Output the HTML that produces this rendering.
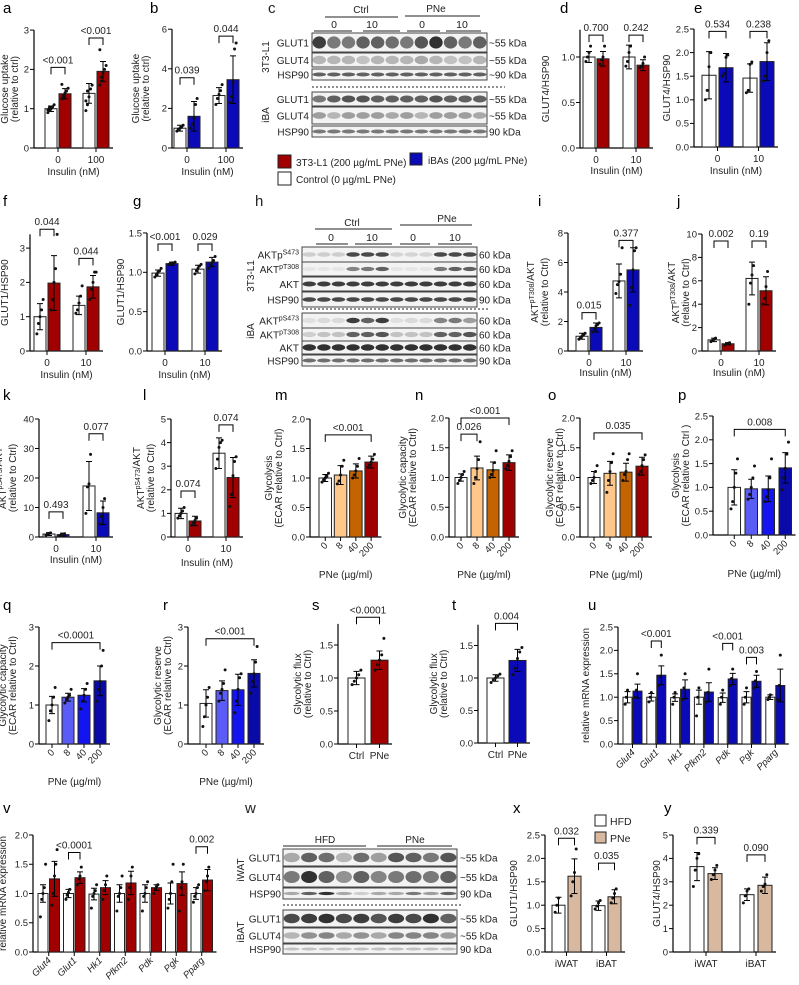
<!DOCTYPE html>
<html><head><meta charset="utf-8">
<style>
html,body{margin:0;padding:0;background:#fff;}
svg{display:block;font-family:"Liberation Sans",Arial,sans-serif;}
</style></head>
<body>
<svg id="fig" width="799" height="985" viewBox="0 0 799 985" xmlns="http://www.w3.org/2000/svg"></svg>
<script>
// ---------------- DATA ----------------
const insCats=["0","100"];
const ins10=["0","10"];
const pneCats=["0","8","40","200"];
const ctrlPne=["Ctrl","PNe"];
const genes=["Glut4","Glut1","Hk1","Pfkm2","Pdk","Pgk","Pparg"];
const tissue=["iWAT","iBAT"];

const aMeans=[1.0,1.38,1.39,1.95];
const aErr=[0.07,0.13,0.25,0.25];
const aPts=[[0.9,0.95,1,1.05,1.1,0.97,1.02],[1.25,1.3,1.4,1.45,1.52,1.62,1.33],[0.95,1.1,1.3,1.5,1.6,1.2,1.45],[1.6,1.8,1.9,2.0,2.1,2.5,1.7]];
const aBr=[[0,1,2.05,"<0.001"],[2,3,2.8,"<0.001"]];

const bMeans=[1.0,1.6,2.65,3.45];
const bErr=[0.15,0.75,0.4,1.2];
const bPts=[[0.85,0.95,1.0,1.05,1.15],[1.0,1.2,1.5,2.2,2.5],[2.2,2.5,2.7,2.9,3.2],[2.3,2.6,3.3,5.0,5.3]];
const bBr=[[0,1,3.55,"0.039"],[2,3,5.65,"0.044"]];

const dMeans=[1.0,0.98,1.0,0.91];
const dErr=[0.06,0.08,0.13,0.06];
const dPts=[[0.95,1.0,1.05,1.12],[0.92,0.97,1.0,1.12],[0.9,0.95,1.05,1.12],[0.88,0.9,0.93,1.0]];
const dBr=[[0,1,1.24,"0.700"],[2,3,1.24,"0.242"]];

const eMeans=[1.52,1.68,1.46,1.81];
const eErr=[0.5,0.3,0.3,0.4];
const ePts=[[1.0,1.2,1.7,2.0],[1.5,1.55,1.9,1.95],[1.15,1.2,1.75,1.8],[1.4,1.5,2.0,2.25]];
const eBr=[[0,1,2.45,"0.534"],[2,3,2.45,"0.238"]];

const fMeans=[1.0,1.98,1.33,1.87];
const fErr=[0.38,0.8,0.27,0.33];
const fPts=[[0.5,0.8,1.0,1.2,1.5],[1.2,1.5,2.0,2.4,3.4],[1.1,1.2,1.4,1.6,1.9],[1.5,1.8,2.0,2.3,2.3]];
const fBr=[[0,1,3.55,"0.044"],[2,3,2.7,"0.044"]];

const gMeans=[0.99,1.11,1.04,1.13];
const gErr=[0.04,0.02,0.05,0.06];
const gPts=[[0.94,0.97,1.0,1.02,1.05],[1.1,1.11,1.12,1.12,1.13],[0.98,1.02,1.05,1.08,1.1],[1.05,1.1,1.12,1.15,1.2]];
const gBr=[[0,1,1.36,"<0.001"],[2,3,1.36,"0.029"]];

const iMeans=[1.0,1.6,4.75,5.5];
const iErr=[0.2,0.3,1.15,1.5];
const iPts=[[0.8,0.9,1.0,1.1,1.2],[1.3,1.5,1.7,1.8,1.9],[3.9,4.5,4.7,5.2,7.0],[3.1,4.3,5.5,6.8,7.0]];
const iBr=[[0,1,2.6,"0.015"],[2,3,7.5,"0.377"]];

const jMeans=[0.95,0.62,6.2,5.15];
const jErr=[0.15,0.1,1.4,1.2];
const jPts=[[0.8,0.9,1.0,1.1],[0.5,0.6,0.65,0.7],[4.0,5.8,6.5,7.3],[4.0,4.5,5.5,6.8]];
const jBr=[[0,1,9.4,"0.002"],[2,3,9.4,"0.19"]];

const kMeans=[1.0,0.8,17.3,8.2];
const kErr=[0.5,0.5,8.3,4.0];
const kPts=[[0.6,0.9,1.2,1.4],[0.5,0.7,0.9,1.1],[8.0,17,18,28],[4.5,7,10,13]];
const kBr=[[0,1,8.5,"0.493"],[2,3,35,"0.077"]];

const lMeans=[1.0,0.68,3.55,2.52];
const lErr=[0.22,0.2,0.65,0.85];
const lPts=[[0.8,0.9,1.0,1.1,1.25],[0.5,0.6,0.7,0.8],[2.9,3.3,3.8,4.0,4.1],[1.3,1.8,2.6,3.2,3.4]];
const lBr=[[0,1,1.95,"0.074"],[2,3,4.75,"0.074"]];

const mMeans=[1.0,1.05,1.12,1.27];
const mErr=[0.06,0.16,0.12,0.1];
const mPts=[[0.93,0.97,1.0,1.03,1.08],[0.9,0.95,1.05,1.2,1.3],[1.0,1.05,1.12,1.2,1.33],[1.18,1.22,1.27,1.32,1.4]];
const mBr=[[0,3,1.73,"<0.001"]];

const nMeans=[1.0,1.16,1.13,1.25];
const nErr=[0.06,0.2,0.13,0.13];
const nPts=[[0.9,0.95,1.0,1.05,1.1],[0.9,1.0,1.15,1.3,1.6],[1.0,1.05,1.12,1.25,1.45],[1.15,1.2,1.27,1.35,1.45]];
const nBr=[[0,1,1.73,"0.026"],[0,3,2.0,"<0.001"]];

const oMeans=[1.0,1.07,1.09,1.19];
const oErr=[0.1,0.2,0.15,0.15];
const oPts=[[0.9,0.95,1.0,1.1,1.2],[0.75,0.95,1.1,1.25,1.4],[0.95,1.05,1.1,1.3,1.4],[1.05,1.1,1.2,1.3,1.38]];
const oBr=[[0,3,1.75,"0.035"]];

const pMeans=[1.0,0.97,0.97,1.41];
const pErr=[0.37,0.2,0.27,0.32];
const pPts=[[0.55,0.7,1.0,1.3,1.6],[0.75,0.85,1.0,1.2,1.45],[0.7,0.8,0.95,1.2,1.6],[0.95,1.2,1.4,1.7,1.95]];
const pBr=[[0,3,2.22,"0.008"]];

const qMeans=[1.0,1.2,1.25,1.62];
const qErr=[0.22,0.1,0.17,0.38];
const qPts=[[0.6,0.85,1.0,1.2,1.45],[1.05,1.15,1.2,1.25,1.4],[0.9,1.1,1.25,1.4,1.55],[1.1,1.4,1.6,2.0,2.4]];
const qBr=[[0,3,2.6,"<0.0001"]];

const rMeans=[1.04,1.37,1.39,1.81];
const rErr=[0.35,0.25,0.4,0.35];
const rPts=[[0.45,0.7,1.0,1.2,1.45],[1.1,1.3,1.4,1.55,1.9],[0.8,1.1,1.4,1.7,1.8],[1.3,1.6,1.8,2.1,2.5]];
const rBr=[[0,3,2.7,"<0.001"]];

const sMeans=[1.0,1.27];
const sErr=[0.1,0.14];
const sPts=[[0.9,0.95,1.0,1.05,1.12],[1.12,1.2,1.27,1.35,1.6]];
const sBr=[[0,1,1.92,"<0.0001"]];

const tMeans=[1.0,1.27];
const tErr=[0.05,0.17];
const tPts=[[0.93,0.97,1.0,1.03,1.06],[1.05,1.15,1.3,1.4,1.47]];
const tBr=[[0,1,1.84,"0.004"]];

const uMeans=[1.0,1.13,1.0,1.47,0.99,1.17,1.0,1.11,0.99,1.39,1.0,1.34,1.0,1.25];
const uErr=[0.12,0.15,0.08,0.2,0.08,0.2,0.15,0.2,0.1,0.12,0.12,0.13,0.05,0.35];
const uPts=[[0.85,1.0,1.15],[1.0,1.15,1.5],[0.9,1.0,1.1],[1.25,1.45,1.9],[0.85,1.0,1.1],[0.95,1.2,1.5],[0.6,1.0,1.2],[0.9,1.1,1.6],[0.85,1.0,1.15],[1.25,1.4,1.6],[0.85,1.0,1.2],[1.2,1.35,1.55],[0.95,1.0,1.05],[0.95,1.25,1.9]];
const uBr=[[2,3,2.2,"<0.001"],[8,9,2.15,"<0.001"],[10,11,1.85,"0.003"]];

const vMeans=[1.0,1.25,1.0,1.27,0.99,1.1,1.0,1.18,1.0,1.1,1.0,1.17,1.0,1.23];
const vErr=[0.15,0.3,0.07,0.1,0.1,0.12,0.15,0.2,0.15,0.05,0.18,0.2,0.1,0.18];
const vPts=[[0.6,0.9,1.0,1.1,1.5],[0.8,1.0,1.3,1.5,1.75],[0.9,0.97,1.02,1.07],[1.15,1.25,1.3,1.45],[0.75,0.95,1.0,1.05,1.15],[0.9,1.05,1.15,1.3],[0.7,0.95,1.0,1.1,1.3],[0.9,1.1,1.3,1.45],[0.7,0.95,1.0,1.1,1.2],[1.0,1.08,1.12,1.15],[0.75,0.9,1.0,1.2,1.5],[0.7,1.1,1.2,1.5],[0.85,0.95,1.0,1.1,1.15],[1.05,1.2,1.3,1.45]];
const vBr=[[2,3,1.7,"<0.0001"],[12,13,1.8,"0.002"]];

const xMeans=[1.0,1.62,0.99,1.18];
const xErr=[0.17,0.37,0.1,0.15];
const xPts=[[0.85,1.0,1.15],[1.2,1.5,1.7,2.2],[0.92,0.98,1.05,1.1],[1.05,1.15,1.25,1.35]];
const xBr=[[0,1,2.43,"0.032"],[2,3,1.9,"0.035"]];

const yMeans=[3.65,3.35,2.45,2.85];
const yErr=[0.6,0.25,0.25,0.35];
const yPts=[[2.8,3.5,4.0,4.2],[3.1,3.3,3.5,3.7],[2.1,2.4,2.6,2.7],[2.6,2.8,2.9,3.3]];
const yBr=[[0,1,4.9,"0.339"],[2,3,4.15,"0.090"]];

// ---------------- DRAWING ----------------
const NS='http://www.w3.org/2000/svg';
const svg=document.getElementById('fig');
function el(tag,attrs,parent,text){const e=document.createElementNS(NS,tag);for(const k in attrs)e.setAttribute(k,attrs[k]);if(text!==undefined)e.textContent=text;(parent||svg).appendChild(e);return e;}

const W='#ffffff',R='#a00000',B='#0a0ab8',LO='#ffc88a',O='#c46400',LB='#5b5bf5',MB='#1414f0',DB='#0a0aa8',TAN='#d8b89e';

function drawPanel(P){
  const g=el('g',{});
  
  
  const Y=v=>P.y0-v*P.ppu;
  const bx=i=>{const gi=Math.floor(i/P.nPer),bi=i%P.nPer;return P.x0+gi*P.gstep+bi*(P.bw+P.ig);};
  const cx=i=>bx(i)+P.bw/2;
  const n=P.means.length;
  const xEnd=bx(n-1)+P.bw+(P.xpad||4);
  const L=el('text',{x:P.lx,y:P.ly,'font-size':15,fill:'#000'},g,P.letter);
  
  
  const ya=el('line',{x1:P.ax,y1:P.y0+0.5,x2:P.ax,y2:Y(P.top),stroke:'#000','stroke-width':1.2},g);
  
  
  const xa=el('line',{x1:P.ax,y1:P.y0,x2:xEnd,y2:P.y0,stroke:'#000','stroke-width':1.2},g);
  
  
  P.ticks.forEach(t=>{
    el('line',{x1:P.ax-4,y1:Y(t),x2:P.ax,y2:Y(t),stroke:'#000','stroke-width':1},g);
    const tl=el('text',{x:P.ax-5,y:Y(t)+3.3,'font-size':9.5,'text-anchor':'end',fill:'#222'},g,t.toFixed(P.dec));
    
    
  });
  for(let i=0;i<n;i++){
    const col=P.colors.length===n?P.colors[i]:P.colors[i%P.nPer];
    const top=Y(P.means[i]);
    const r=el('rect',{x:bx(i),y:top,width:P.bw,height:P.y0-top,fill:col,stroke:'#222','stroke-width':1},g);
    
    
    const c=cx(i),e=P.err[i];
    const eb=el('path',{d:`M${c},${Y(P.means[i]-e)}V${Y(P.means[i]+e)}M${c-3},${Y(P.means[i]+e)}h6M${c-3},${Y(P.means[i]-e)}h6`,stroke:'#000','stroke-width':1,fill:'none'},g);
    
    
    (P.pts[i]||[]).forEach((v,k)=>{
      const off=((k%5)-2)*P.bw*0.13;
      const d=el('circle',{cx:c+off,cy:Y(v),r:1.5,fill:'#111'},g);
      
      
    });
  }
  const ng=Math.ceil(n/P.nPer);
  for(let gi=0;gi<ng;gi++){
    const a=gi*P.nPer,b=Math.min(n-1,gi*P.nPer+P.nPer-1);
    const c=(bx(a)+bx(b)+P.bw)/2;
    el('line',{x1:c,y1:P.y0,x2:c,y2:P.y0+4,stroke:'#000','stroke-width':1},g);
    let t;
    if(P.rot){
      t=el('text',{x:c+3,y:P.y0+9,'font-size':9.5,'text-anchor':'end',fill:'#222','font-style':P.italic?'italic':'normal',transform:`rotate(-45 ${c+3} ${P.y0+9})`},g,P.cats[gi]);
    } else {
      t=el('text',{x:c,y:P.y0+15,'font-size':10,'text-anchor':'middle',fill:'#222'},g,P.cats[gi]);
    }
    
    
  }
  P.br.forEach(br=>{
    const x1=cx(br[0]),x2=cx(br[1]),y=Y(br[2]);
    const p=el('path',{d:`M${x1},${y+7}V${y}H${x2}V${y+7}`,stroke:'#000','stroke-width':1,fill:'none'},g);
    
    
    const t=el('text',{x:(x1+x2)/2,y:y-4,'font-size':10,'text-anchor':'middle',fill:'#222'},g,br[3]);
    
    
  });
  const ymid=(P.y0+Y(P.top))/2+(P.ylOff||0);
  P.ylab.forEach((s,k)=>{
    const xx=P.ylx+k*10;
    const t=el('text',{x:xx,y:ymid,'font-size':10,'text-anchor':'middle',fill:'#222',transform:`rotate(-90 ${xx} ${ymid})`},g);
    t.innerHTML=s;
    
    
  });
  if(P.xlab){
    const xm=(P.ax+xEnd)/2;
    const t=el('text',{x:xm,y:P.xly,'font-size':10,'text-anchor':'middle',fill:'#222'},g,P.xlab);
    
    
  }
}

const SUP=(b,s)=>`${b}<tspan dy="-4" font-size="7">${s}</tspan><tspan dy="4"></tspan>`;

const panels=[
 {name:'panel-a',letter:'a',lx:3,ly:13,ax:34,y0:148,ppu:39.3,top:3,ticks:[0,1,2,3],dec:0,x0:45,gstep:38,bw:12,ig:2,nPer:2,colors:[W,R],means:aMeans,err:aErr,pts:aPts,br:aBr,cats:insCats,ylab:['Glucose uptake','(relative to ctrl)'],ylx:8,xlab:'Insulin (nM)',xly:175},
 {name:'panel-b',letter:'b',lx:150,ly:13,ax:172,y0:148,ppu:19.8,top:6,ticks:[0,2,4,6],dec:0,x0:174,gstep:39,bw:12,ig:2,nPer:2,colors:[W,B],means:bMeans,err:bErr,pts:bPts,br:bBr,cats:insCats,ylab:['Glucose uptake','(relative to ctrl)'],ylx:139,xlab:'Insulin  (nM)',xly:175},
 {name:'panel-d',letter:'d',lx:560,ly:13,ax:580,y0:148,ppu:91,top:1.3,ticks:[0,0.5,1.0],dec:1,x0:583,gstep:40,bw:12,ig:2,nPer:2,colors:[W,R],means:dMeans,err:dErr,pts:dPts,br:dBr,cats:ins10,ylab:['GLUT4/HSP90'],ylx:549,xlab:'Insulin (nM)',xly:174},
 {name:'panel-e',letter:'e',lx:694,ly:13,ax:694,y0:147,ppu:47.2,top:2.5,ticks:[0,0.5,1,1.5,2,2.5],dec:1,x0:702,gstep:41,bw:14,ig:3,nPer:2,colors:[W,B],means:eMeans,err:eErr,pts:ePts,br:eBr,cats:ins10,ylab:['GLUT4/HSP90'],ylx:670,xlab:'Insulin (nM)',xly:174},
 {name:'panel-f',letter:'f',lx:3,ly:206,ax:30,y0:351,ppu:34.3,top:3.4,ticks:[0,1,2,3],dec:0,x0:34,gstep:39,bw:12,ig:2,nPer:2,colors:[W,R],means:fMeans,err:fErr,pts:fPts,br:fBr,cats:ins10,ylab:['GLUT1/HSP90'],ylx:8,xlab:'Insulin (nM)',xly:378},
 {name:'panel-g',letter:'g',lx:133,ly:206,ax:147,y0:351,ppu:78.7,top:1.5,ticks:[0,0.5,1.0,1.5],dec:1,x0:152,gstep:40,bw:12,ig:2,nPer:2,colors:[W,B],means:gMeans,err:gErr,pts:gPts,br:gBr,cats:ins10,ylab:['GLUT1/HSP90'],ylx:124,xlab:'Insulin (nM)',xly:378},
 {name:'panel-i',letter:'i',lx:538,ly:206,ax:568,y0:351,ppu:14.75,top:8,ticks:[0,2,4,6,8],dec:0,x0:576,gstep:37,bw:12,ig:2,nPer:2,colors:[W,B],means:iMeans,err:iErr,pts:iPts,br:iBr,cats:ins10,ylab:[SUP('AKT','pT308')+'/AKT','(relative to Ctrl)'],ylx:538,xlab:'Insulin (nM)',xly:376},
 {name:'panel-j',letter:'j',lx:677,ly:206,ax:702,y0:351,ppu:11.7,top:10,ticks:[0,2,4,6,8,10],dec:0,x0:708,gstep:38,bw:12,ig:2,nPer:2,colors:[W,R],means:jMeans,err:jErr,pts:jPts,br:jBr,cats:ins10,ylab:[SUP('AKT','pT308')+'/AKT','(relative to Ctrl)'],ylx:679,xlab:'Insulin (nM)',xly:376},
 {name:'panel-k',letter:'k',lx:3,ly:400,ax:39,y0:537,ppu:2.95,top:40,ticks:[0,10,20,30,40],dec:0,x0:43,gstep:40,bw:12,ig:2,nPer:2,colors:[W,B],means:kMeans,err:kErr,pts:kPts,br:kBr,cats:ins10,ylab:[SUP('AKT','pS473')+'/AKT','(relative to Ctrl)'],ylx:6,xlab:'Insulin (nM)',xly:563},
 {name:'panel-l',letter:'l',lx:143,ly:400,ax:171,y0:537,ppu:23.6,top:5,ticks:[0,1,2,3,4,5],dec:0,x0:175,gstep:38,bw:12,ig:2,nPer:2,colors:[W,R],means:lMeans,err:lErr,pts:lPts,br:lBr,cats:ins10,ylab:[SUP('AKT','pS473')+'/AKT','(relative to Ctrl)'],ylx:144,xlab:'Insulin (nM)',xly:566},
 {name:'panel-m',letter:'m',lx:275,ly:400,ax:310,y0:537,ppu:59,top:2,ticks:[0,0.5,1,1.5,2],dec:1,x0:319,gstep:15.3,bw:12.5,ig:0,nPer:1,colors:[W,LO,O,R],means:mMeans,err:mErr,pts:mPts,br:mBr,cats:pneCats,rot:true,ylab:['Glycolysis','(ECAR relative to Ctrl)'],ylx:272,xlab:'PNe (µg/ml)',xly:578},
 {name:'panel-n',letter:'n',lx:415,ly:400,ax:449,y0:537,ppu:59.5,top:2,ticks:[0,0.5,1,1.5,2],dec:1,x0:455,gstep:16,bw:12,ig:0,nPer:1,colors:[W,LO,O,R],means:nMeans,err:nErr,pts:nPts,br:nBr,cats:pneCats,rot:true,ylab:['Glycolytic capacity','(ECAR relative to Ctrl)'],ylx:406,xlab:'PNe (µg/ml)',xly:578},
 {name:'panel-o',letter:'o',lx:548,ly:400,ax:580,y0:537,ppu:59.5,top:2,ticks:[0,0.5,1,1.5,2],dec:1,x0:588,gstep:16,bw:12,ig:0,nPer:1,colors:[W,LO,O,R],means:oMeans,err:oErr,pts:oPts,br:oBr,cats:pneCats,rot:true,ylab:['Glycolytic reserve','(ECAR relative to Ctrl)'],ylx:553,xlab:'PNe (µg/ml)',xly:578},
 {name:'panel-p',letter:'p',lx:678,ly:400,ax:713,y0:535,ppu:47.6,top:2.5,ticks:[0,0.5,1,1.5,2,2.5],dec:1,x0:728,gstep:17,bw:12.5,ig:0,nPer:1,colors:[W,LB,MB,DB],means:pMeans,err:pErr,pts:pPts,br:pBr,cats:pneCats,rot:true,ylab:['Glycolysis','(ECAR relative to Ctrl )'],ylx:679,xlab:'PNe (µg/ml)',xly:577},
 {name:'panel-q',letter:'q',lx:3,ly:610,ax:39,y0:744,ppu:39,top:3,ticks:[0,1,2,3],dec:0,x0:46,gstep:16,bw:12,ig:0,nPer:1,colors:[W,LB,MB,DB],means:qMeans,err:qErr,pts:qPts,br:qBr,cats:pneCats,rot:true,ylab:['Glycolytic capacity','(ECAR relative to Ctrl)'],ylx:6,xlab:'PNe (µg/ml)',xly:785},
 {name:'panel-r',letter:'r',lx:163,ly:610,ax:188,y0:744,ppu:39,top:3,ticks:[0,1,2,3],dec:0,x0:200,gstep:16,bw:12,ig:0,nPer:1,colors:[W,LB,MB,DB],means:rMeans,err:rErr,pts:rPts,br:rBr,cats:pneCats,rot:true,ylab:['Glycolytic reserve','(ECAR relative to Ctrl)'],ylx:161,xlab:'PNe (µg/ml)',xly:785},
 {name:'panel-s',letter:'s',lx:312,ly:610,ax:338,y0:744,ppu:66,top:1.82,ticks:[0,0.5,1,1.5],dec:1,x0:348,gstep:23,bw:17,ig:0,nPer:1,colors:[W,R],means:sMeans,err:sErr,pts:sPts,br:sBr,cats:ctrlPne,ylab:['Glycolytic flux','(relative to Ctrl)'],ylx:301,xlab:null},
 {name:'panel-t',letter:'t',lx:452,ly:610,ax:478,y0:743,ppu:65,top:1.82,ticks:[0,0.5,1,1.5],dec:1,x0:487,gstep:22,bw:17,ig:0,nPer:1,colors:[W,B],means:tMeans,err:tErr,pts:tPts,br:tBr,cats:ctrlPne,ylab:['Glycolytic flux','(relative to Ctrl)'],ylx:437,xlab:null},
 {name:'panel-u',letter:'u',lx:588,ly:610,ax:618,y0:744,ppu:46.8,top:2.5,ticks:[0,0.5,1,1.5,2,2.5],dec:1,x0:623,gstep:23.8,bw:9,ig:1,nPer:2,colors:[W,B],means:uMeans,err:uErr,pts:uPts,br:uBr,cats:genes,rot:true,italic:true,ylab:['relative mRNA expression'],ylx:589,xlab:null},
 {name:'panel-v',letter:'v',lx:3,ly:813,ax:33,y0:952,ppu:58.5,top:2,ticks:[0,0.5,1,1.5,2],dec:1,x0:38,gstep:25.5,bw:10,ig:1.5,nPer:2,colors:[W,R],means:vMeans,err:vErr,pts:vPts,br:vBr,cats:genes,rot:true,italic:true,ylab:['relative mRNA expression'],ylx:6,xlab:null},
 {name:'panel-x',letter:'x',lx:513,ly:813,ax:545,y0:952,ppu:46.8,top:2.5,ticks:[0,0.5,1,1.5,2,2.5],dec:1,x0:552,gstep:40,bw:13,ig:3,nPer:2,colors:[W,TAN],means:xMeans,err:xErr,pts:xPts,br:xBr,cats:tissue,ylab:['GLUT1/HSP90'],ylx:517,xlab:null},
 {name:'panel-y',letter:'y',lx:664,ly:813,ax:673,y0:952,ppu:23.4,top:5,ticks:[0,1,2,3,4,5],dec:0,x0:690,gstep:50,bw:14,ig:4,nPer:2,colors:[W,TAN],means:yMeans,err:yErr,pts:yPts,br:yBr,cats:tissue,ylab:['GLUT4/HSP90'],ylx:660,xlab:null},
];
panels.forEach(drawPanel);

// ---------------- BLOTS ----------------
function blot(name,x,w,lanes,rows,labelX,kdaX){
  const g=el('g',{});
  
  
  const lw=w/lanes;
  rows.forEach(r=>{
    const bx=el('rect',{x:x,y:r.y,width:w,height:r.h,fill:'#f3f3f3',stroke:'#444','stroke-width':1},g);
    
    
    for(let i=0;i<lanes;i++){
      const d=r.d[i%r.d.length];
      el('ellipse',{cx:x+lw*(i+0.5),cy:r.y+r.h/2,rx:lw*0.46,ry:Math.max(1.5,r.h*r.bh),fill:'#000','fill-opacity':d},g);
    }
    const t=el('text',{x:labelX,y:r.y+r.h/2+4,'font-size':10,'text-anchor':'end',fill:'#222'},g);
    t.innerHTML=r.label;
    
    
    const k=el('text',{x:kdaX,y:r.y+r.h/2+4,'font-size':10,fill:'#222'},g,r.kda);
    
    
  });
}
function txt(x,y,s,size,anchor,name,rot){
  const a={x:x,y:y,'font-size':size,'text-anchor':anchor||'start',fill:'#222'};
  if(rot)a.transform=`rotate(-90 ${x} ${y})`;
  const t=el('text',a);
  t.innerHTML=s;
  
  
  return t;
}
function ln(x1,y1,x2,y2,dash){const l=el('line',{x1,y1,x2,y2,stroke:'#222','stroke-width':1,'stroke-dasharray':dash||'none'});}

// panel c
txt(268,13,'c',15,'start','panel-letter-c');
txt(361,13,'Ctrl',10,'middle','group-header-ctrl'); ln(325,17,398,17);
txt(436,12,'PNe',10,'middle','group-header-pne'); ln(405,16,480,16);
txt(334,28,'0',10.5,'middle','dose-0'); txt(372,28,'10',10.5,'middle','dose-10');
txt(422,28,'0',10.5,'middle','dose-0'); txt(462,28,'10',10.5,'middle','dose-10');
ln(314,31,352,31); ln(363,31,400,31); ln(407,31,440,31); ln(446,31,481,31);
blot('blot-c',312,175,12,[
 {y:33,h:19,bh:0.32,label:'GLUT1',kda:'~55 kDa',d:[0.75,0.5,0.5,0.6,0.6,0.55,0.5,0.65,0.8,0.6,0.5,0.6]},
 {y:53,h:14,bh:0.3,label:'GLUT4',kda:'~55 kDa',d:[0.25,0.25,0.25,0.2,0.25,0.25,0.25,0.3,0.25,0.2,0.2,0.25]},
 {y:69,h:11,bh:0.18,label:'HSP90',kda:'~90 kDa',d:[0.6]},
 {y:92,h:14,bh:0.25,label:'GLUT1',kda:'~55 kDa',d:[0.5,0.6,0.65,0.65,0.6,0.6,0.6,0.6,0.65,0.6,0.6,0.6]},
 {y:107,h:17,bh:0.2,label:'GLUT4',kda:'~55 kDa',d:[0.35,0.25,0.35,0.35,0.35,0.3]},
 {y:126,h:11,bh:0.18,label:'HSP90',kda:'90 kDa',d:[0.5]}],309,489);
ln(312,87,505,87,'2,2');
txt(269,57,'3T3-L1',10,'middle','cell-line-3t3l1',true);
txt(269,115,'iBA',10,'middle','cell-line-iba',true);
let lr=el('rect',{x:278,y:155,width:13,height:13,fill:R,stroke:'#222'});
txt(296,166,'3T3-L1 (200 µg/mL PNe)',10,'start','legend-entry-3t3l1');
lr=el('rect',{x:278,y:172,width:13,height:13,fill:W,stroke:'#222'});
txt(296,183,'Control (0 µg/mL  PNe)',10,'start','legend-entry-control');
lr=el('rect',{x:410,y:153,width:12,height:12,fill:B,stroke:'#222'});
txt(428,164,'iBAs (200 µg/mL PNe)',10,'start','legend-entry-iba');

// panel h
txt(255,206,'h',15,'start','panel-letter-h');
txt(352,226,'Ctrl',10,'middle','group-header-ctrl'); ln(315,229,392,229);
txt(447,222,'PNe',10,'middle','group-header-pne'); ln(400,225,472,225);
txt(331,241,'0',10.5,'middle','dose-0'); txt(372,241,'10',10.5,'middle','dose-10');
txt(413,241,'0',10.5,'middle','dose-0'); txt(455,241,'10',10.5,'middle','dose-10');
ln(316,244,348,244); ln(355,244,392,244); ln(400,244,430,244); ln(438,244,472,244);
blot('blot-h',302,175,12,[
 {y:247,h:15,bh:0.15,label:SUP('AKTp','S473'),kda:'60 kDa',d:[0.15,0.15,0.15,0.7,0.7,0.7,0.12,0.12,0.12,0.7,0.7,0.7]},
 {y:262,h:14,bh:0.15,label:SUP('AKT','pT308'),kda:'60 kDa',d:[0.05,0.05,0.05,0.45,0.5,0.6,0.05,0.05,0.05,0.5,0.6,0.6]},
 {y:277,h:14,bh:0.18,label:'AKT',kda:'60 kDa',d:[0.75]},
 {y:292,h:15,bh:0.15,label:'HSP90',kda:'90 kDa',d:[0.7]},
 {y:313,h:15,bh:0.18,label:SUP('AKT','pS473'),kda:'60 kDa',d:[0.08,0.1,0.1,0.75,0.6,0.75,0.08,0.1,0.1,0.45,0.5,0.35]},
 {y:328,h:13,bh:0.2,label:SUP('AKT','pT308'),kda:'60 kDa',d:[0.15,0.2,0.2,0.6,0.6,0.65,0.2,0.2,0.2,0.6,0.6,0.65]},
 {y:341,h:13,bh:0.25,label:'AKT',kda:'60 kDa',d:[0.8]},
 {y:355,h:11,bh:0.18,label:'HSP90',kda:'90 kDa',d:[0.55]}],299,479);
ln(302,309,490,309,'2,2');
txt(254,276,'3T3-L1',10,'middle','cell-line-3t3l1',true);
txt(254,331,'iBA',10,'middle','cell-line-iba',true);

// panel w
txt(245,813,'w',15,'start','panel-letter-w');
txt(325,843,'HFD',10,'middle','group-header-hfd'); ln(283,846,366,846);
txt(415,843,'PNe',10,'middle','group-header-pne'); ln(377,846,452,846);
blot('blot-w',283,174,10,[
 {y:849,h:17,bh:0.28,label:'GLUT1',kda:'~55 kDa',d:[0.3,0.6,0.55,0.25,0.55,0.35,0.65,0.6,0.5,0.65]},
 {y:867,h:20,bh:0.3,label:'GLUT4',kda:'~55 kDa',d:[0.5,0.8,0.6,0.4,0.6,0.45,0.5,0.55,0.5,0.6]},
 {y:888,h:11,bh:0.15,label:'HSP90',kda:'90 kDa',d:[0.3,0.6,0.8,0.3,0.15,0.3,0.3,0.5,0.35,0.6]},
 {y:910,h:17,bh:0.28,label:'GLUT1',kda:'~55 kDa',d:[0.7,0.75,0.8,0.7,0.75,0.65,0.75,0.7,0.8,0.6]},
 {y:928,h:15,bh:0.22,label:'GLUT4',kda:'~55 kDa',d:[0.25,0.4,0.45,0.3,0.4,0.3,0.45,0.45,0.45,0.35]},
 {y:944,h:10,bh:0.15,label:'HSP90',kda:'90 kDa',d:[0.2]}],281,460);
ln(283,905,462,905,'2,2');
txt(244,870,'iWAT',10,'middle','tissue-iwat',true);
txt(244,932,'iBAT',10,'middle','tissue-ibat',true);

// legend x
lr=el('rect',{x:595,y:815,width:11,height:11,fill:W,stroke:'#222'});
txt(610,825,'HFD',10.5,'start','legend-entry-hfd');
lr=el('rect',{x:595,y:832,width:11,height:11,fill:TAN,stroke:'#222'});
txt(610,842,'PNe',10.5,'start','legend-entry-pne');
</script>
</body></html>
